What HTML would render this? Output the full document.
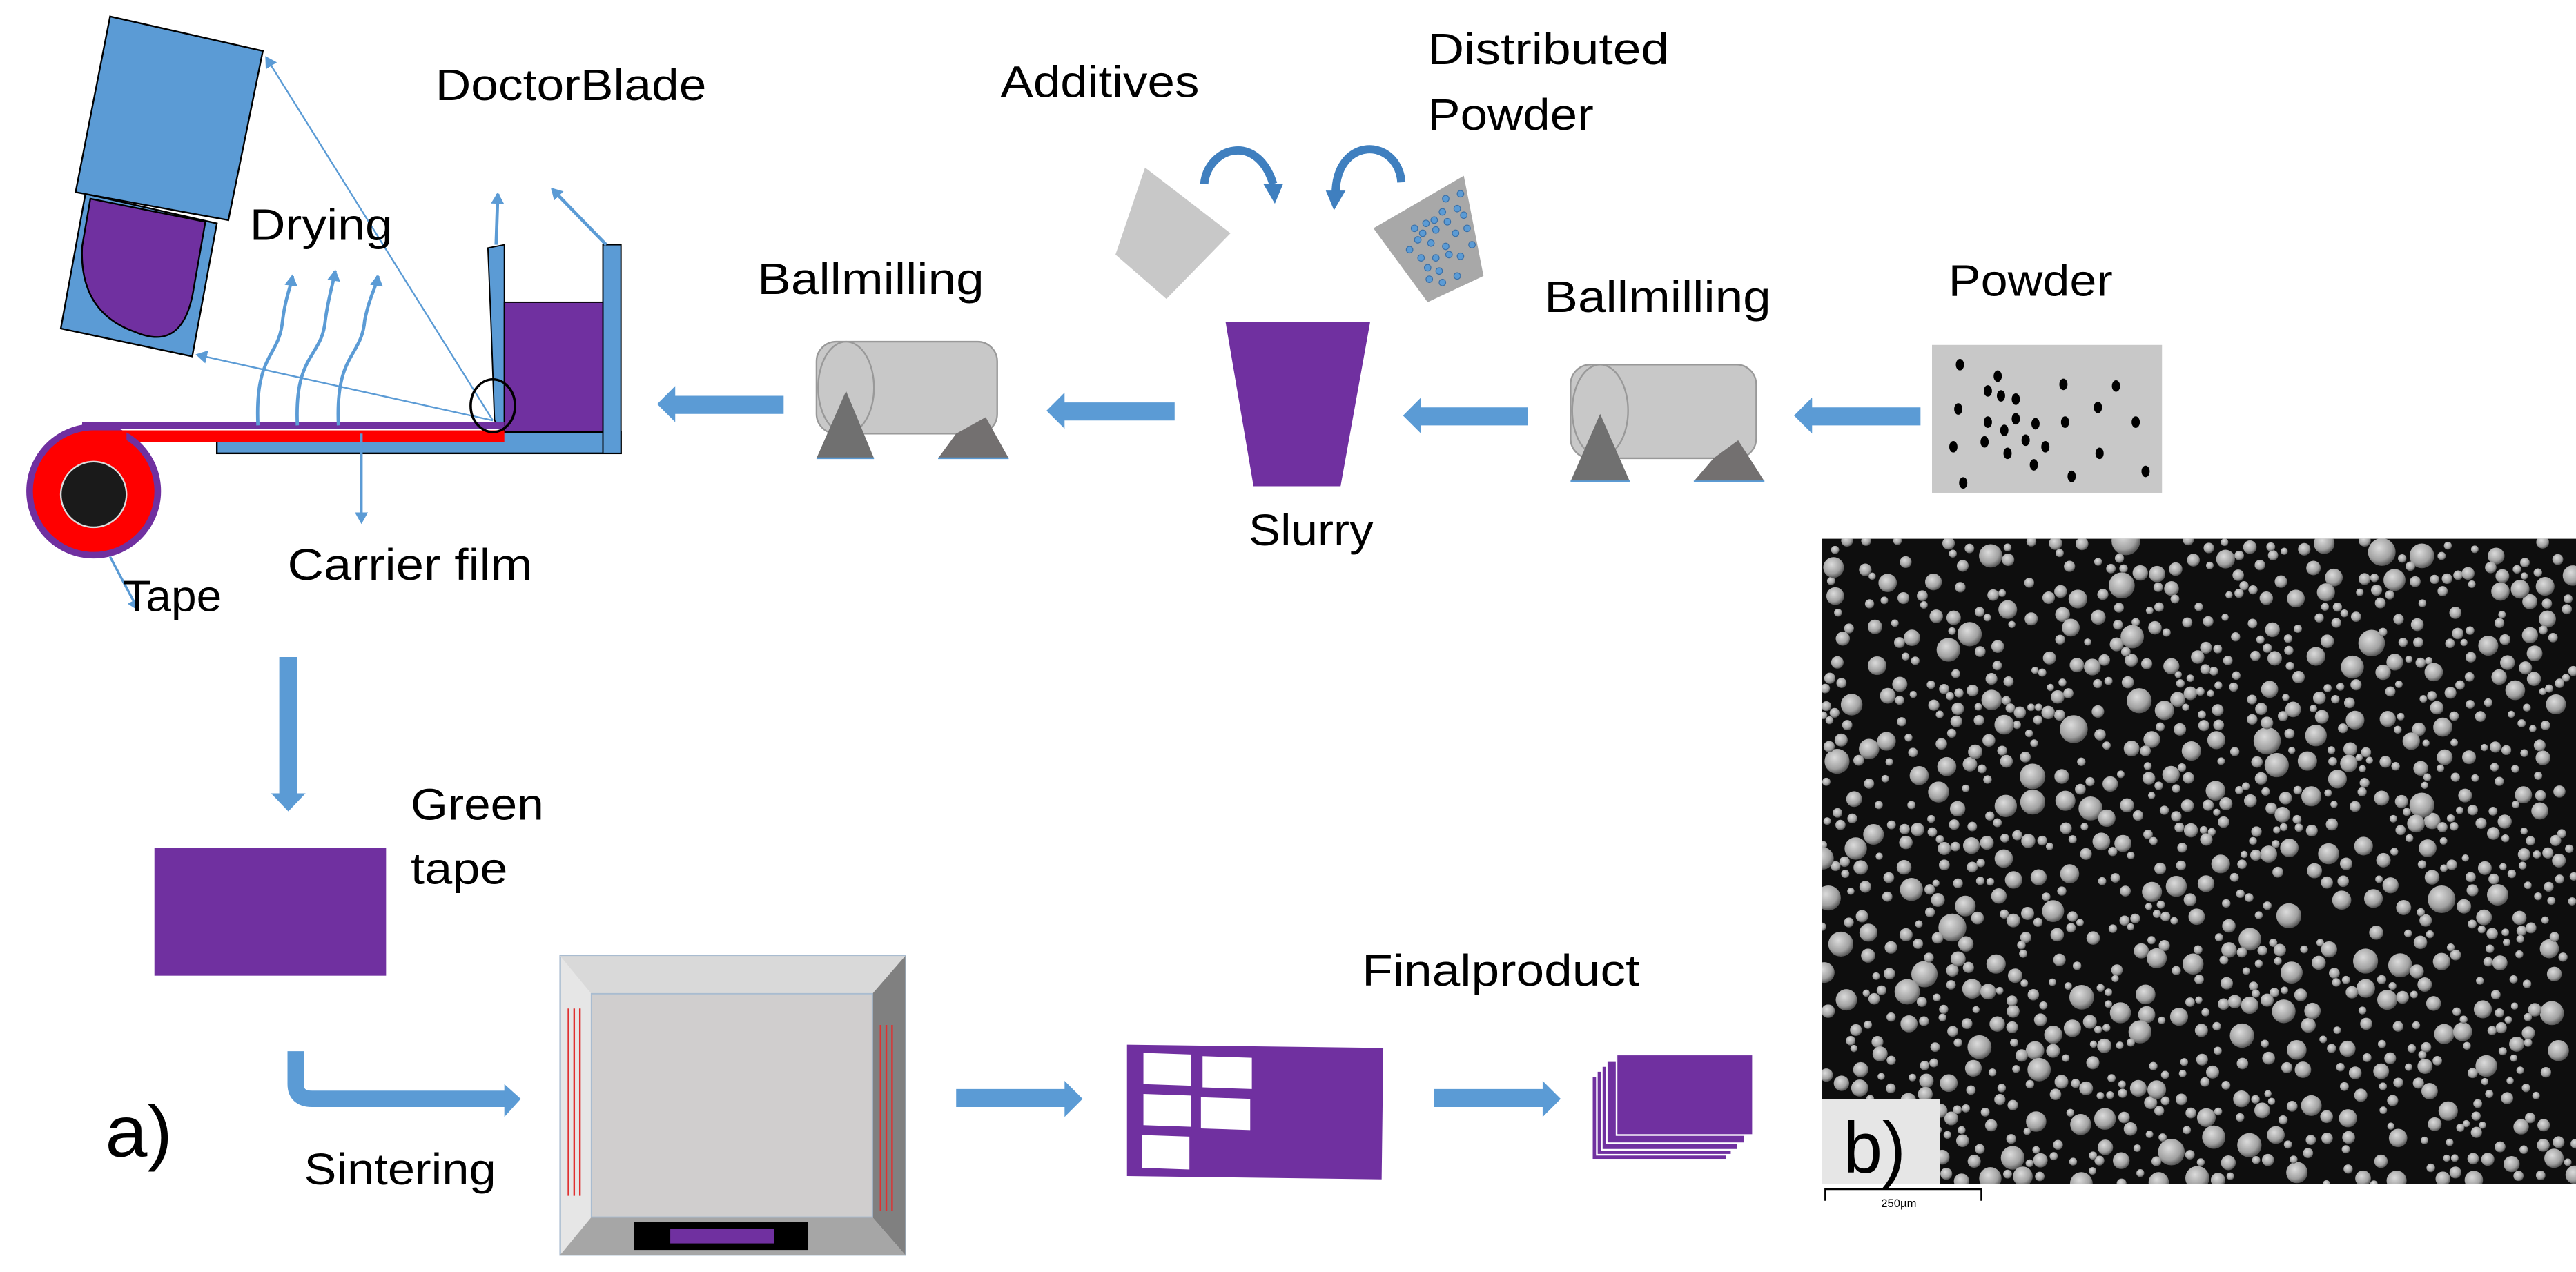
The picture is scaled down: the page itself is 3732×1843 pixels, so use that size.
<!DOCTYPE html>
<html><head><meta charset="utf-8"><style>
html,body{margin:0;padding:0;background:#fff;}
svg{display:block;}
text{font-family:"Liberation Sans",sans-serif;fill:#000;}
</style></head><body>
<svg id="s" width="3732" height="1843" viewBox="0 0 1568 774.4" preserveAspectRatio="none" xmlns="http://www.w3.org/2000/svg">
<defs>
<marker id="ah" markerWidth="8" markerHeight="8" refX="6" refY="4" orient="auto" markerUnits="userSpaceOnUse"><path d="M0,0 L7,4 L0,8 z" fill="#5b9bd5"/></marker>
<radialGradient id="g" cx="0.4" cy="0.35" r="0.65"><stop offset="0" stop-color="#dcdcdc"/><stop offset="0.7" stop-color="#a0a0a0"/><stop offset="1" stop-color="#555"/></radialGradient>
<clipPath id="semclip"><rect x="1109" y="328" width="459" height="393"/></clipPath>
</defs>

<!-- Dryer -->
<polygon points="52,118 132,136 117,217 37,200" fill="#5b9bd5" stroke="#000" stroke-width="1"/>
<path d="M55,121 L125,135 L118,175 Q112,215 82,202 Q48,190 50,150 Z" fill="#7030a0" stroke="#000" stroke-width="1"/>
<polygon points="67,10 160,31 139,134 46,117" fill="#5b9bd5" stroke="#000" stroke-width="1"/>
<line x1="300" y1="256" x2="162" y2="35" stroke="#5b9bd5" stroke-width="1" marker-end="url(#ah)"/>
<line x1="300" y1="256" x2="120" y2="216" stroke="#5b9bd5" stroke-width="1" marker-end="url(#ah)"/>

<!-- Doctor blade -->
<rect x="132" y="263" width="246" height="13" fill="#5b9bd5" stroke="#000" stroke-width="1"/>
<rect x="367" y="149" width="11" height="127" fill="#5b9bd5" stroke="#000" stroke-width="0.8"/>
<polygon points="297,151 307,149 307,263 301,256 299,200" fill="#5b9bd5" stroke="#000" stroke-width="0.8"/>
<rect x="307" y="184" width="60" height="79" fill="#7030a0" stroke="#000" stroke-width="0.8"/>
<rect x="50" y="257" width="257" height="4" fill="#7030a0"/>
<rect x="60" y="262" width="247" height="7" fill="#ff0000"/>
<line x1="302" y1="149" x2="303" y2="118" stroke="#5b9bd5" stroke-width="2" marker-end="url(#ah)"/>
<line x1="369" y1="149" x2="336" y2="115" stroke="#5b9bd5" stroke-width="2" marker-end="url(#ah)"/>
<ellipse cx="300" cy="247" rx="13.5" ry="16" fill="none" stroke="#000" stroke-width="1.5"/>

<!-- Roll -->
<circle cx="57" cy="299" r="41" fill="#7030a0"/>
<circle cx="57" cy="299" r="37" fill="#ff0000"/>
<rect x="57" y="262" width="20" height="7" fill="#ff0000"/>
<circle cx="57" cy="301" r="20" fill="#1a1a1a" stroke="#ddd" stroke-width="1"/>

<!-- Drying arrows -->
<path d="M157,259 C155,215 170,218 172,195 C174,180 177,175 178,168" fill="none" stroke="#5b9bd5" stroke-width="2" marker-end="url(#ah)"/>
<path d="M181,259 C179,215 196,218 198,195 C200,180 203,172 204,165" fill="none" stroke="#5b9bd5" stroke-width="2" marker-end="url(#ah)"/>
<path d="M206,259 C204,215 220,218 222,195 C225,180 229,175 230,168" fill="none" stroke="#5b9bd5" stroke-width="2" marker-end="url(#ah)"/>
<line x1="220" y1="264" x2="220" y2="318" stroke="#5b9bd5" stroke-width="1.5" marker-end="url(#ah)"/>
<line x1="67" y1="339" x2="84" y2="371" stroke="#5b9bd5" stroke-width="1.5" marker-end="url(#ah)"/>

<!-- Labels top -->
<text x="265" y="61" font-size="27" textLength="165" lengthAdjust="spacingAndGlyphs">DoctorBlade</text>
<text x="152" y="146" font-size="27" textLength="87" lengthAdjust="spacingAndGlyphs">Drying</text>
<text x="609" y="59" font-size="27" textLength="121" lengthAdjust="spacingAndGlyphs">Additives</text>
<text x="869" y="39" font-size="27" textLength="147" lengthAdjust="spacingAndGlyphs">Distributed</text>
<text x="869" y="79" font-size="27" textLength="101" lengthAdjust="spacingAndGlyphs">Powder</text>
<text x="461" y="179" font-size="27" textLength="138" lengthAdjust="spacingAndGlyphs">Ballmilling</text>
<text x="940" y="190" font-size="27" textLength="138" lengthAdjust="spacingAndGlyphs">Ballmilling</text>
<text x="1186" y="180" font-size="27" textLength="100" lengthAdjust="spacingAndGlyphs">Powder</text>
<text x="175" y="353" font-size="27" textLength="149" lengthAdjust="spacingAndGlyphs">Carrier film</text>
<text x="75" y="372" font-size="27" textLength="60" lengthAdjust="spacingAndGlyphs">Tape</text>
<text x="760" y="332" font-size="27" textLength="76" lengthAdjust="spacingAndGlyphs">Slurry</text>

<!-- Ballmill left -->
<rect x="497" y="208" width="110" height="56" rx="12" fill="#c8c8c8" stroke="#999" stroke-width="1"/>
<ellipse cx="515" cy="236" rx="17" ry="28" fill="#c8c8c8" stroke="#999" stroke-width="1"/>
<polygon points="515,238 532,279 497,279" fill="#707070"/>
<polygon points="582,264 600,254 614,279 571,279" fill="#737070"/>
<line x1="497" y1="279" x2="532" y2="279" stroke="#5b9bd5" stroke-width="1"/>
<line x1="571" y1="279" x2="614" y2="279" stroke="#5b9bd5" stroke-width="1"/>

<!-- Ballmill right -->
<rect x="956" y="222" width="113" height="57" rx="12" fill="#c8c8c8" stroke="#999" stroke-width="1"/>
<ellipse cx="974" cy="250" rx="17" ry="28" fill="#c8c8c8" stroke="#999" stroke-width="1"/>
<polygon points="974,252 992,293 956,293" fill="#707070"/>
<polygon points="1043,279 1058,268 1074,293 1031,293" fill="#737070"/>
<line x1="956" y1="293" x2="992" y2="293" stroke="#5b9bd5" stroke-width="1"/>
<line x1="1031" y1="293" x2="1074" y2="293" stroke="#5b9bd5" stroke-width="1"/>

<!-- Left block arrows -->
<polygon points="400,246 411,235 411,241 477,241 477,252 411,252 411,257" fill="#5b9bd5"/>
<polygon points="637,250 648,239 648,245 715,245 715,256 648,256 648,261" fill="#5b9bd5"/>
<polygon points="854,253 865,242 865,248 930,248 930,259 865,259 865,264" fill="#5b9bd5"/>
<polygon points="1092,253 1103,242 1103,248 1169,248 1169,259 1103,259 1103,264" fill="#5b9bd5"/>

<!-- Slurry -->
<polygon points="746,196 834,196 816,296 763,296" fill="#7030a0"/>
<polygon points="697,102 749,142 710,182 679,155" fill="#c8c8c8"/>
<polygon points="891,107 903,168 869,184 836,139" fill="#a8a8a8"/>
<g fill="#5b9bd5" stroke="#3a70a8" stroke-width="0.5">
<circle cx="889" cy="118" r="2"/><circle cx="880" cy="121" r="2"/><circle cx="887" cy="127" r="2"/><circle cx="878" cy="129" r="2"/><circle cx="873" cy="134" r="2"/><circle cx="881" cy="135" r="2"/><circle cx="891" cy="131" r="2"/><circle cx="868" cy="136" r="2"/><circle cx="861" cy="139" r="2"/><circle cx="866" cy="142" r="2"/><circle cx="874" cy="140" r="2"/><circle cx="886" cy="142" r="2"/><circle cx="893" cy="139" r="2"/><circle cx="863" cy="146" r="2"/><circle cx="871" cy="148" r="2"/><circle cx="880" cy="150" r="2"/><circle cx="896" cy="149" r="2"/><circle cx="858" cy="152" r="2"/><circle cx="865" cy="157" r="2"/><circle cx="874" cy="157" r="2"/><circle cx="882" cy="155" r="2"/><circle cx="889" cy="156" r="2"/><circle cx="869" cy="163" r="2"/><circle cx="876" cy="165" r="2"/><circle cx="887" cy="168" r="2"/><circle cx="878" cy="172" r="2"/><circle cx="870" cy="170" r="2"/>
</g>
<path d="M733,112 C735,90 765,80 775,112" fill="none" stroke="#3f7fbf" stroke-width="5"/>
<polygon points="769,112 781,112 776,124" fill="#3f7fbf"/>
<path d="M853,111 C852,94 835,85 822,95 C815,101 813,110 813,118" fill="none" stroke="#3f7fbf" stroke-width="5"/>
<polygon points="807,116 819,116 812,128" fill="#3f7fbf"/>

<!-- Powder -->
<rect x="1176" y="210" width="140" height="90" fill="#c8c8c8"/>
<g fill="#000">
<ellipse cx="1193" cy="222" rx="2.5" ry="3.5"/><ellipse cx="1216" cy="229" rx="2.5" ry="3.5"/><ellipse cx="1256" cy="234" rx="2.5" ry="3.5"/><ellipse cx="1288" cy="235" rx="2.5" ry="3.5"/><ellipse cx="1210" cy="238" rx="2.5" ry="3.5"/><ellipse cx="1218" cy="241" rx="2.5" ry="3.5"/><ellipse cx="1227" cy="243" rx="2.5" ry="3.5"/><ellipse cx="1192" cy="249" rx="2.5" ry="3.5"/><ellipse cx="1277" cy="248" rx="2.5" ry="3.5"/><ellipse cx="1210" cy="257" rx="2.5" ry="3.5"/><ellipse cx="1227" cy="255" rx="2.5" ry="3.5"/><ellipse cx="1239" cy="258" rx="2.5" ry="3.5"/><ellipse cx="1257" cy="257" rx="2.5" ry="3.5"/><ellipse cx="1300" cy="257" rx="2.5" ry="3.5"/><ellipse cx="1220" cy="262" rx="2.5" ry="3.5"/><ellipse cx="1189" cy="272" rx="2.5" ry="3.5"/><ellipse cx="1208" cy="269" rx="2.5" ry="3.5"/><ellipse cx="1233" cy="268" rx="2.5" ry="3.5"/><ellipse cx="1245" cy="272" rx="2.5" ry="3.5"/><ellipse cx="1222" cy="276" rx="2.5" ry="3.5"/><ellipse cx="1278" cy="276" rx="2.5" ry="3.5"/><ellipse cx="1238" cy="283" rx="2.5" ry="3.5"/><ellipse cx="1261" cy="290" rx="2.5" ry="3.5"/><ellipse cx="1306" cy="287" rx="2.5" ry="3.5"/><ellipse cx="1195" cy="294" rx="2.5" ry="3.5"/>
</g>

<!-- Down arrow -->
<polygon points="170,400 181,400 181,483 186,483 175.5,494 165,483 170,483" fill="#5b9bd5"/>
<rect x="94" y="516" width="141" height="78" fill="#7030a0"/>
<text x="250" y="499" font-size="27" textLength="81" lengthAdjust="spacingAndGlyphs">Green</text>
<text x="250" y="538" font-size="27" textLength="59" lengthAdjust="spacingAndGlyphs">tape</text>

<!-- Elbow arrow -->
<path d="M180,640 L180,660 Q180,669 190,669 L308,669" fill="none" stroke="#5b9bd5" stroke-width="10"/>
<polygon points="307,660 317,669 307,680" fill="#5b9bd5"/>
<text x="64" y="704" font-size="44" textLength="41" lengthAdjust="spacingAndGlyphs">a)</text>
<text x="185" y="721" font-size="27" textLength="117" lengthAdjust="spacingAndGlyphs">Sintering</text>

<!-- Furnace -->
<rect x="341" y="582" width="210" height="182" fill="#e6e6e6" stroke="#a9bcd0" stroke-width="1"/>
<polygon points="341,582 551,582 531,605 360,605" fill="#d9d9d9"/>
<polygon points="551,582 551,764 531,741 531,605" fill="#808080"/>
<polygon points="341,764 551,764 531,741 360,741" fill="#a6a6a6"/>
<rect x="360" y="605" width="171" height="136" fill="#d0cece" stroke="#a9bcd0" stroke-width="0.8"/>
<rect x="386" y="744" width="106" height="17" fill="#000"/>
<rect x="408" y="748" width="63" height="9" fill="#7030a0"/>
<g stroke="#e03030" stroke-width="1"><line x1="346" y1="614" x2="346" y2="728"/><line x1="349.5" y1="614" x2="349.5" y2="728"/><line x1="353" y1="614" x2="353" y2="728"/>
<line x1="536" y1="624" x2="536" y2="737"/><line x1="539.5" y1="624" x2="539.5" y2="737"/><line x1="543" y1="624" x2="543" y2="737"/></g>

<polygon points="582,663 648,663 648,658 659,669 648,680 648,674 582,674" fill="#5b9bd5"/>
<polygon points="686,636 842,638 841,718 686,716" fill="#7030a0"/>
<g fill="#fff"><polygon points="696,641 725,642 725,661 696,660"/><polygon points="732,643 762,644 762,663 732,662"/><polygon points="696,666 725,667 725,686 696,685"/><polygon points="731,668 761,669 761,688 731,687"/><polygon points="695,691 724,692 724,712 695,711"/></g>

<text x="829" y="600" font-size="27" textLength="169" lengthAdjust="spacingAndGlyphs">Finalproduct</text>
<polygon points="873,663 939,663 939,658 950,669 939,680 939,674 873,674" fill="#5b9bd5"/>
<g stroke="#fff" stroke-width="1" fill="#7030a0">
<rect x="969" y="655" width="82" height="51"/><rect x="972" y="652" width="82" height="51"/><rect x="975" y="649" width="83" height="51"/><rect x="978" y="646" width="84" height="50"/><rect x="984" y="642" width="83" height="49"/>
</g>

<!-- SEM -->
<rect x="1109" y="328" width="459" height="393" fill="#0e0e0e"/>
<g id="sem" clip-path="url(#semclip)"></g>
<rect x="1109" y="669" width="72" height="52" fill="#e6e6e6"/>
<text x="1122" y="714" font-size="44" textLength="38" lengthAdjust="spacingAndGlyphs">b)</text>
<path d="M1111,731 L1111,724 L1206,724 L1206,731" fill="none" stroke="#000" stroke-width="1"/>
<text x="1145" y="735" font-size="7">250µm</text>
</svg>
<script>
(function(){var g=document.getElementById('sem');var s=12345;function r(){s=(s*1103515245+12345)%2147483648;return s/2147483648;}
var h='',pts=[];
for(var i=0;i<6000&&pts.length<1100;i++){var x=1109+r()*459,y=328+r()*393,rad=2.2+r()*r()*7;
var ok=true;for(var j=0;j<pts.length;j++){var p=pts[j],dx=p[0]-x,dy=p[1]-y;if(dx*dx+dy*dy<(p[2]+rad)*(p[2]+rad)*0.8){ok=false;break;}}
if(!ok)continue;pts.push([x,y,rad]);
h+='<circle cx="'+x.toFixed(1)+'" cy="'+y.toFixed(1)+'" r="'+rad.toFixed(1)+'" fill="url(#g)"/>';}
g.innerHTML=h;})();
</script>
</body></html>
